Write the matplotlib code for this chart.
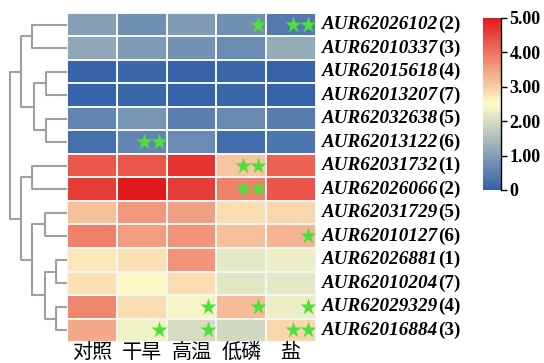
import numpy as np
import matplotlib
matplotlib.use("Agg")
import matplotlib.pyplot as plt
from matplotlib.colors import LinearSegmentedColormap

# conditions (columns) and genes (rows, top to bottom)
conditions = ["对照", "干旱", "高温", "低磷", "盐"]
genes = ["AUR62026102", "AUR62010337", "AUR62015618", "AUR62013207",
         "AUR62032638", "AUR62013122", "AUR62031732", "AUR62026066",
         "AUR62031729", "AUR62010127", "AUR62026881", "AUR62010204",
         "AUR62029329", "AUR62016884"]
gene_tags = ["(2)", "(3)", "(4)", "(7)", "(5)", "(6)", "(1)",
             "(2)", "(5)", "(6)", "(1)", "(7)", "(4)", "(3)"]

values = np.array([
    [1.00, 0.75, 0.95, 0.75, 0.40],
    [1.15, 0.95, 0.80, 0.70, 1.20],
    [0.05, 0.10, 0.05, 0.10, 0.05],
    [0.05, 0.10, 0.05, 0.10, 0.05],
    [0.60, 0.85, 0.50, 0.65, 0.45],
    [0.25, 0.60, 0.70, 0.20, 0.35],
    [4.30, 4.30, 4.70, 3.10, 4.20],
    [4.60, 5.00, 4.60, 3.85, 4.35],
    [3.15, 3.60, 3.50, 2.85, 2.90],
    [3.85, 3.55, 3.65, 3.15, 3.30],
    [2.70, 2.80, 3.65, 2.20, 2.30],
    [2.80, 2.50, 2.85, 2.15, 2.20],
    [3.80, 2.85, 2.40, 3.20, 2.30],
    [3.40, 2.35, 2.00, 1.95, 2.90],
])

# number of significance stars in each cell
stars = np.array([
    [0, 0, 0, 1, 2],
    [0, 0, 0, 0, 0],
    [0, 0, 0, 0, 0],
    [0, 0, 0, 0, 0],
    [0, 0, 0, 0, 0],
    [0, 2, 0, 0, 0],
    [0, 0, 0, 2, 0],
    [0, 0, 0, 2, 0],
    [0, 0, 0, 0, 0],
    [0, 0, 0, 0, 1],
    [0, 0, 0, 0, 0],
    [0, 0, 0, 0, 0],
    [0, 0, 1, 1, 1],
    [0, 1, 1, 0, 2],
])

# row clustering: (child a, child b, merge distance); new nodes numbered from 14
merges = [
    (0, 1, 34), (2, 3, 21), (4, 5, 21), (15, 16, 33), (14, 17, 45),
    (6, 7, 34), (8, 9, 22), (10, 11, 11), (12, 13, 11), (21, 22, 22),
    (20, 23, 34), (19, 24, 45), (18, 25, 56),
]

cmap = LinearSegmentedColormap.from_list(
    "bwr_custom", [(0.0, "#3361aa"), (0.5, "#fdfbc8"), (1.0, "#e31a1c")])

serif = ["Liberation Serif", "DejaVu Serif"]
cjk = ["Noto Sans CJK SC", "DejaVu Sans"]

fig = plt.figure(figsize=(5.44, 3.63), dpi=100)
W, H = 544, 363

# heatmap
ax = fig.add_axes([67 / W, 1 - 342 / H, 249 / W, 329 / H])
nrow, ncol = values.shape
ax.pcolormesh(np.arange(ncol + 1), np.arange(nrow + 1), values, cmap=cmap,
              vmin=0, vmax=5, edgecolors="#f4f6f6", linewidth=1.3)
ax.set_xlim(0, ncol)
ax.set_ylim(nrow, 0)
for s in ax.spines.values():
    s.set_visible(False)
ax.set_yticks([])
ax.set_xticks(np.arange(ncol) + 0.5)
ax.set_xticklabels(conditions, family=cjk, fontsize=14.5)
ax.tick_params(axis="x", length=0, pad=0)

# stars
for i in range(nrow):
    for j in range(ncol):
        for k in range(stars[i, j]):
            ax.plot(j + 1 - 0.16 - 0.30 * k, i + 0.5, marker="*", ms=12.5,
                    color="#4ee03a", mec="none")

# row labels: bold italic id + bold upright tag
for i in range(nrow):
    t = ax.text(ncol + 0.12, i + 0.5, genes[i], family=serif, fontsize=13.8,
                fontweight="bold", fontstyle="italic", va="center", ha="left")
    ax.annotate(gene_tags[i], xy=(1, 0.5), xycoords=t, va="center",
                ha="left", family=serif, fontsize=13.8, fontweight="bold")

# dendrogram
dax = fig.add_axes([0, 1 - 342 / H, 67 / W, 329 / H], sharey=ax)
dax.set_xlim(66, 0)
dax.axis("off")
pos = {i: (0.0, i + 0.5) for i in range(nrow)}
node = nrow
for a, b, h in merges:
    xa, ya = pos[a]
    xb, yb = pos[b]
    dax.plot([xa, h, h, xb], [ya, ya, yb, yb], color="#a0a0a0", lw=1.5,
             solid_capstyle="butt")
    pos[node] = (h, (ya + yb) / 2)
    node += 1
dax.set_ylim(nrow, 0)

# colorbar
cax = fig.add_axes([483 / W, 1 - 190 / H, 18 / W, 172 / H])
sm = plt.cm.ScalarMappable(cmap=cmap, norm=plt.Normalize(0, 5))
cb = fig.colorbar(sm, cax=cax, ticks=[0, 1, 2, 3, 4, 5])
cb.outline.set_visible(False)
cax.spines["right"].set_visible(True)
cax.spines["right"].set_linewidth(1.0)
cb.ax.set_yticklabels(["0", "1.00", "2.00", "3.00", "4.00", "5.00"],
                      family=serif, fontweight="bold", fontsize=13)
cax.tick_params(length=4, width=1, pad=2)

fig.savefig("out.png", dpi=100)
